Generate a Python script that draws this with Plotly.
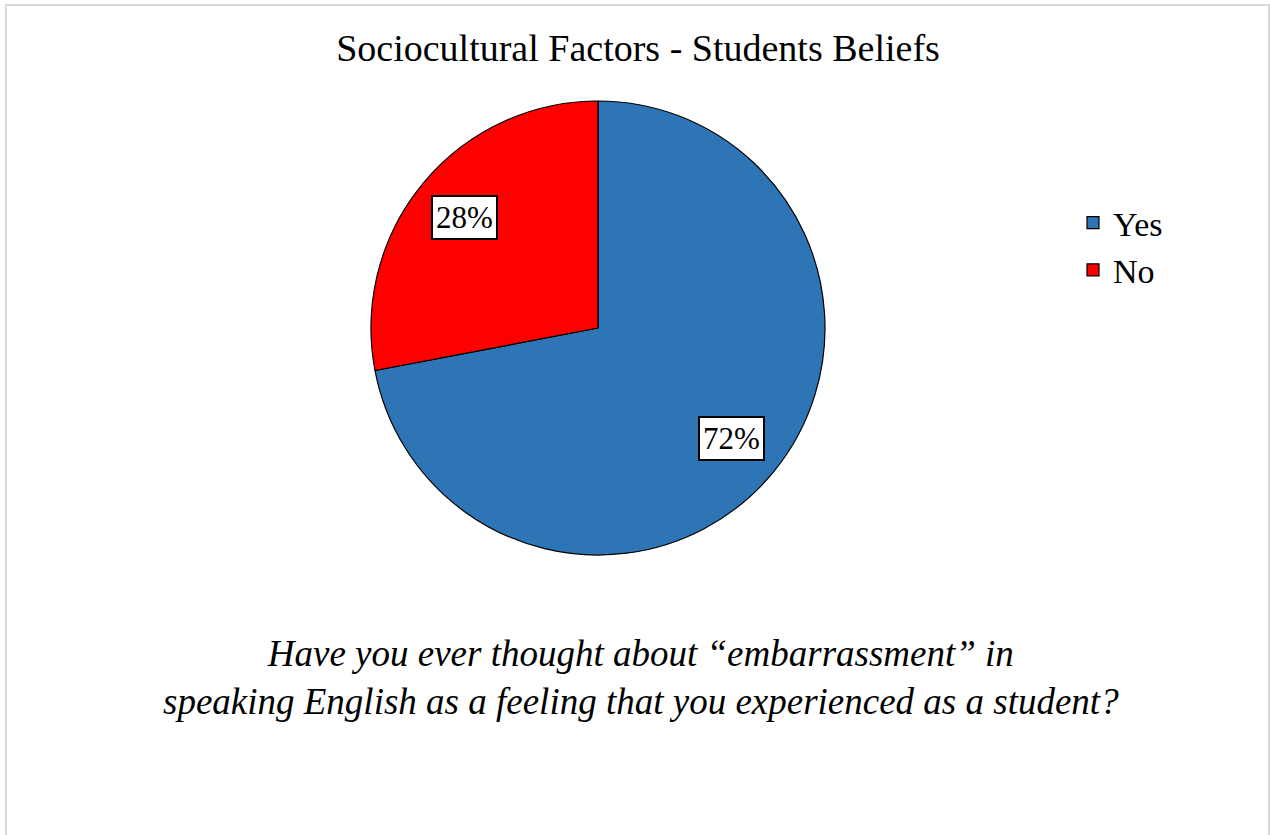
import numpy as np
import plotly.graph_objects as go

labels = ["Yes", "No"]
values = [72, 28]
colors = ["#2E75B6", "#FF0000"]

title_text = "Sociocultural Factors - Students Beliefs"
caption = ("<i>Have you ever thought about \u201cembarrassment\u201d in<br>"
           "speaking English as a feeling that you experienced as a student?</i>")

W, H = 1270, 835
cx_px, cy_px, r_px = 598, 328, 227
FONT = "Liberation Serif, Times New Roman, serif"

fig = go.Figure(go.Pie(
    labels=labels, values=values, sort=False, direction="clockwise", rotation=0,
    marker=dict(colors=colors, line=dict(color="black", width=1.2)),
    textinfo="none", hoverinfo="label+percent",
    domain=dict(x=[(cx_px - r_px) / W, (cx_px + r_px) / W],
                y=[1 - (cy_px + r_px) / H, 1 - (cy_px - r_px) / H]),
))

# data labels in boxes, placed along each slice's mid angle
total = sum(values)
cum = np.cumsum([0] + values)
annotations = []
for i, v in enumerate(values):
    mid = (cum[i] + v / 2) / total * 2 * np.pi
    x = cx_px / W + 0.765 * r_px * np.sin(mid) / W
    y = 1 - cy_px / H + 0.765 * r_px * np.cos(mid) / H
    annotations.append(dict(
        x=x, y=y, xref="paper", yref="paper", showarrow=False,
        xanchor="center", yanchor="middle",
        text=f"{round(v / total * 100)}%",
        font=dict(family=FONT, size=31, color="black"),
        bgcolor="white", bordercolor="black", borderwidth=2, borderpad=3,
    ))

annotations.append(dict(
    x=641 / W, y=1 - 677 / H, xref="paper", yref="paper", showarrow=False,
    xanchor="center", yanchor="middle",
    text=caption, align="center",
    font=dict(family=FONT, size=37, color="black"),
))

fig.update_layout(
    width=W, height=H,
    margin=dict(l=0, r=0, t=0, b=0),
    paper_bgcolor="white", plot_bgcolor="white",
    title=dict(text=title_text, x=638 / W, xanchor="center", y=1 - 48 / H, yanchor="middle",
               font=dict(family=FONT, size=38, color="black")),
    legend=dict(x=1073 / W, y=1 - 194 / H, xanchor="left", yanchor="top",
                font=dict(family=FONT, size=34, color="black"),
                itemwidth=30, tracegroupgap=0),
    annotations=annotations,
    shapes=[dict(type="rect", xref="paper", yref="paper",
                 x0=6 / W, x1=1269 / W, y0=-0.02, y1=1 - 5 / H,
                 line=dict(color="#D9D9D9", width=2), layer="below")],
    showlegend=True,
)

fig.write_html("out.html")
